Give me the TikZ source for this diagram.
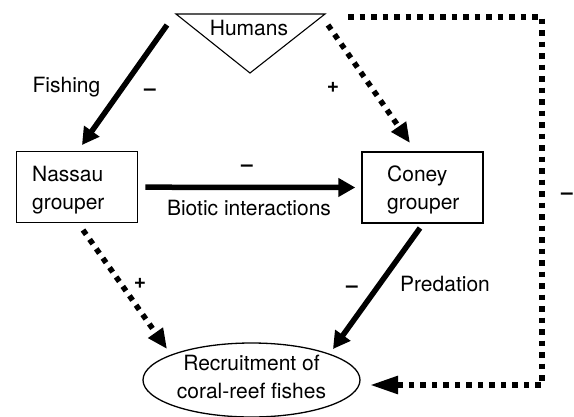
\documentclass[tikz,border=0pt]{standalone}
\usepackage{fontspec}
\setmainfont{TeX Gyre Heros}
\usetikzlibrary{arrows.meta,shapes.geometric}
\begin{document}
\begin{tikzpicture}[x=1pt,y=-1pt,
  txt/.style={font=\fontsize{21}{28}\selectfont, inner sep=0pt},
  sgn/.style={font=\fontsize{21}{28}\selectfont\bfseries, inner sep=0pt, anchor=base},
  box/.style={draw, line width=1.4pt, minimum width=121pt, minimum height=71pt, inner sep=0pt},
  solidarr/.style={line width=5.5pt, -{Triangle[length=17pt,width=18pt]}},
  dotline/.style={line width=5.5pt, dash pattern=on 5.5pt off 6pt},
  dotarr/.style={dotline, -{Triangle[length=20pt,width=17pt]}},
]
\useasboundingbox (0,0) rectangle (574,416);
% Humans triangle
\draw[line width=1.1pt, line join=miter] (176,14) -- (325,14) -- (250,73) -- cycle;
\node[txt, anchor=base] (humans) at (249,35.7) {Humans};
% boxes
\node[box] (nassau) at (77.2,187.2) {};
\node[box] (coney) at (422.5,187.5) {};
\node[txt, anchor=west, align=left] (nassautxt) at (32,190) {Nassau\\grouper};
\node[txt, anchor=west, align=left] (coneytxt) at (387,190) {Coney\\grouper};
% ellipse
\node[draw, ellipse, line width=1.3pt, minimum width=217pt, minimum height=74pt, inner sep=0pt] (recr) at (251.5,380) {};
\node[txt, align=center] (recrtxt) at (251.5,377) {Recruitment of\\coral-reef fishes};
% connector end points
\coordinate (fishS) at (167,25);
\coordinate (fishE) at (82,145);
\coordinate (hcS) at (328,25);
\coordinate (hcE) at (410,143);
\coordinate (nrS) at (83,230);
\coordinate (nrE) at (167,349);
\coordinate (crS) at (420,228);
\coordinate (crE) at (333,349);
\coordinate (loopS) at (348,17);
\coordinate (loopA) at (542,17);
\coordinate (loopB) at (542,385);
\coordinate (loopE) at (370,385);
% arrows
\draw[solidarr] (fishS) -- (fishE);
\draw[solidarr, shorten <=7pt, shorten >=6pt] (nassau.east) -- (coney.west);
\draw[solidarr] (crS) -- (crE);
\draw[dotarr] (hcS) -- (hcE);
\draw[dotarr] (nrS) -- (nrE);
\draw[dotline, -{Triangle[length=28pt,width=17pt]}] (loopS) -- (loopA) -- (loopB) -- (loopE);
% labels
\node[txt, anchor=base] (fishing) at (66.5,92.5) {Fishing};
\node[txt, anchor=base] (biotic) at (249,215) {Biotic interactions};
\node[txt, anchor=base] (predation) at (445,291.5) {Predation};
\node[sgn] (s1) at (150,95.7) {–};
\node[sgn] (s2) at (333,92.3) {+};
\node[sgn] (s3) at (247,171.7) {–};
\node[sgn] (s4) at (567,199.7) {–};
\node[sgn] (s5) at (140,288.3) {+};
\node[sgn] (s6) at (352,292.7) {–};
\end{tikzpicture}
\end{document}
